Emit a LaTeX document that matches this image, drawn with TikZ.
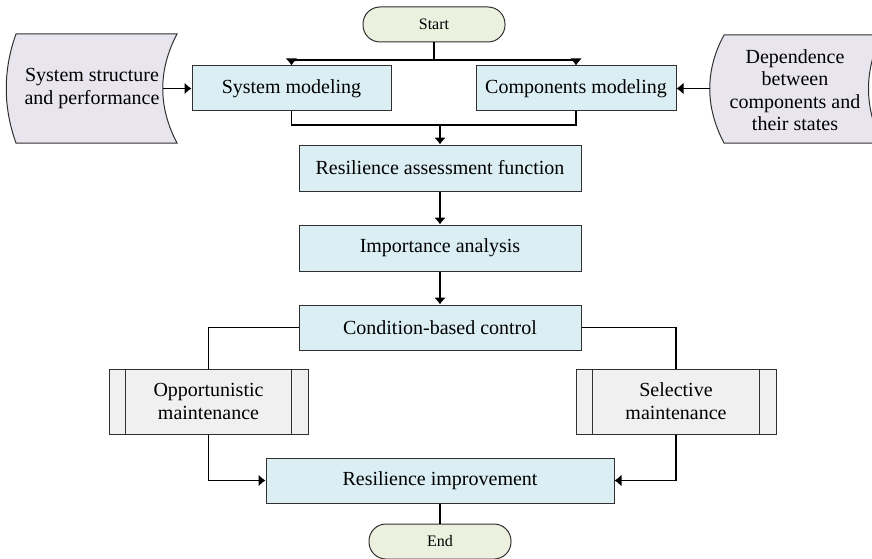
\documentclass[tikz,border=0pt]{standalone}
\usepackage{fontspec}
\setmainfont{Liberation Serif}
\usetikzlibrary{arrows.meta}
\definecolor{procfill}{HTML}{DAEEF3}
\definecolor{datafill}{HTML}{E8E5EF}
\definecolor{subfill}{HTML}{F0F0F0}
\definecolor{termfill}{HTML}{EBF1DE}
\definecolor{edgegray}{HTML}{303030}

\begin{document}
\begin{tikzpicture}[x=1pt,y=-1pt,
  proc/.style={draw=edgegray,fill=procfill,line width=1pt,minimum height=45pt,inner sep=0pt,font=\fontsize{20}{23}\selectfont},
  sub/.style={draw=edgegray,fill=subfill,line width=1pt,minimum height=65pt,minimum width=200pt,inner sep=0pt,align=center,font=\fontsize{20}{23}\selectfont},
  term/.style={draw=edgegray,fill=termfill,line width=1pt,rounded corners=17pt,minimum width=142pt,minimum height=35pt,inner sep=0pt,font=\fontsize{16}{19}\selectfont},
  datatext/.style={align=center,inner sep=0pt,font=\fontsize{20}{22.5}\selectfont},
  link/.style={draw=black,line width=1.6pt},
  flow/.style={link,-{Latex[length=7pt,width=12pt]}}]
\clip (0,0) rectangle (872,559);

% input data shapes
\path[draw=edgegray,fill=datafill,line width=1pt] (16,34) -- (177,34) .. controls (158,70) and (158,107) .. (177,143)
  -- (16,143) .. controls (3,107) and (3,70) .. (16,34);
\path[draw=edgegray,fill=datafill,line width=1pt] (724,35) -- (882,35) .. controls (864,70) and (864,107) .. (882,143)
  -- (724,143) .. controls (705,107) and (705,70) .. (724,35);
\node[datatext] (sysin) at (92,88.5) {System structure\\and performance};
\node[datatext] (depin) at (795,90) {Dependence\\between\\components and\\their states};
\coordinate (sysinE) at (163,88.5);
\coordinate (depinW) at (710,88.5);

% main flow
\node[term] (start) at (434,24.5) {Start};
\node[proc, minimum width=199pt] (sysmod) at (291.5,88.5) {System modeling};
\node[proc, minimum width=200pt] (compmod) at (576,88.5) {Components modeling};
\node[proc, minimum width=282pt, minimum height=46pt] (assess) at (440,168) {Resilience assessment function};
\node[proc, minimum width=282pt, minimum height=46pt] (import) at (440,248) {Importance analysis};
\node[proc, minimum width=282pt] (control) at (440,327.5) {Condition-based control};
\node[sub, minimum width=199pt] (oppm) at (208.5,401.5) {Opportunistic\\maintenance};
\node[sub] (selm) at (676,401.5) {Selective\\maintenance};
\node[proc, minimum width=348pt] (improve) at (440,480.5) {Resilience improvement};
\node[term] (end) at (440,541.5) {End};

\foreach \b in {oppm,selm}{
  \draw[edgegray,line width=1pt] ([xshift=17pt]\b.north west) -- ([xshift=17pt]\b.south west);
  \draw[edgegray,line width=1pt] ([xshift=-17pt]\b.north east) -- ([xshift=-17pt]\b.south east);
}

\coordinate (split) at (434,60);
\coordinate (merge) at (440,125);

\path[link] (start) -- (split);
\path[flow] (split) -| (sysmod.north);
\path[flow] (split) -| (compmod.north);
\path[flow] (sysinE) -- (sysmod.west);
\path[flow] (depinW) -- (compmod.east);
\path[link] (sysmod.south) |- (merge) -| (compmod.south);
\path[flow] (merge) -- (assess.north);
\path[flow] (assess) -- (import);
\path[flow] (import) -- (control);
\path[link] (control.west) -| (oppm.north);
\path[link] (control.east) -| (selm.north);
\path[flow] (oppm.south) |- (improve.west);
\path[flow] (selm.south) |- (improve.east);
\path[link] (improve) -- (end);
\end{tikzpicture}
\end{document}
